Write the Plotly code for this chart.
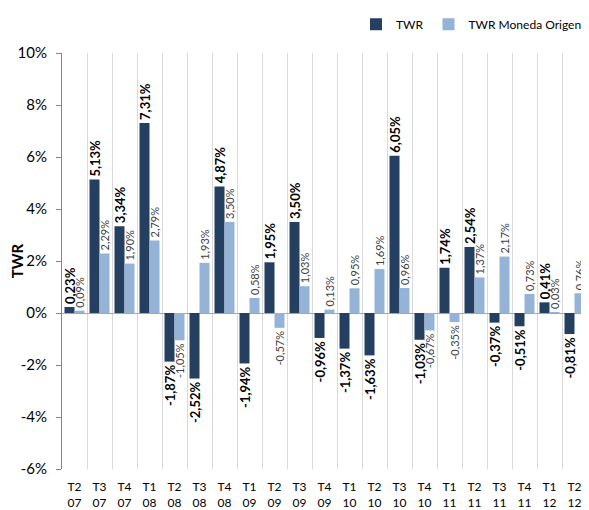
import plotly.graph_objects as go

categories = ["T2<br>07", "T3<br>07", "T4<br>07", "T1<br>08", "T2<br>08", "T3<br>08", "T4<br>08",
              "T1<br>09", "T2<br>09", "T3<br>09", "T4<br>09", "T1<br>10", "T2<br>10", "T3<br>10",
              "T4<br>10", "T1<br>11", "T2<br>11", "T3<br>11", "T4<br>11", "T1<br>12", "T2<br>12"]
twr = [0.23, 5.13, 3.34, 7.31, -1.87, -2.52, 4.87, -1.94, 1.95, 3.50, -0.96,
       -1.37, -1.63, 6.05, -1.03, 1.74, 2.54, -0.37, -0.51, 0.41, -0.81]
twr_origen = [0.09, 2.29, 1.90, 2.79, -1.05, 1.93, 3.50, 0.58, -0.57, 1.03, 0.13,
              0.95, 1.69, 0.96, -0.67, -0.35, 1.37, 2.17, 0.73, 0.03, 0.76]
y_tickvals = [-6, -4, -2, 0, 2, 4, 6, 8, 10]
y_ticktext = ["-6%", "-4%", "-2%", "0%", "2%", "4%", "6%", "8%", "10%"]


def fmt(v):
    return f"{v:.2f}%".replace(".", ",")


fig = go.Figure()
fig.add_trace(go.Bar(
    x=categories, y=twr, name="TWR",
    marker=dict(color="#243F60", line=dict(width=0)),
    text=[fmt(v) for v in twr], textposition="outside", textangle=-90,
    constraintext="none", cliponaxis=False,
    textfont=dict(family="Lato", size=13, color="#000000", weight="bold"),
))
fig.add_trace(go.Bar(
    x=categories, y=twr_origen, name="TWR Moneda Origen",
    marker=dict(color="#95B3D7", line=dict(width=0)),
    text=[fmt(v) for v in twr_origen], textposition="outside", textangle=-90,
    constraintext="none", cliponaxis=False,
    textfont=dict(family="Lato", size=11, color="#404040"),
))

fig.update_layout(
    width=581, height=502,
    margin=dict(l=54, r=2, t=39, b=41),
    paper_bgcolor="white", plot_bgcolor="white",
    barmode="group", bargap=0.2, bargroupgap=0.0,
    font=dict(family="Lato", color="#000000"),
    showlegend=True,
    legend=dict(orientation="h", x=1.0, xanchor="right", y=1.069, yanchor="middle",
                font=dict(size=12, family="Lato"), itemwidth=30,
                traceorder="normal"),
    xaxis=dict(
        type="category", tickson="boundaries", showgrid=True, gridcolor="#D9D9D9",
        gridwidth=1, ticks="", showline=False, tickfont=dict(size=12, family="Lato"),
        tickangle=0, ticklabelstandoff=9, automargin=False,
    ),
    yaxis=dict(
        range=[-6, 10], tickvals=y_tickvals, ticktext=y_ticktext,
        showgrid=False, zeroline=True, zerolinecolor="#A6A6A6", zerolinewidth=1,
        showline=True, linecolor="#868686", linewidth=1, ticks="outside", ticklen=5,
        tickcolor="#868686", tickfont=dict(size=15, family="Lato"), ticklabelstandoff=6,
        title=dict(text="<b>TWR</b>", font=dict(size=15, family="Lato"), standoff=6),
        automargin=False,
    ),
)

fig.write_html("out.html")
